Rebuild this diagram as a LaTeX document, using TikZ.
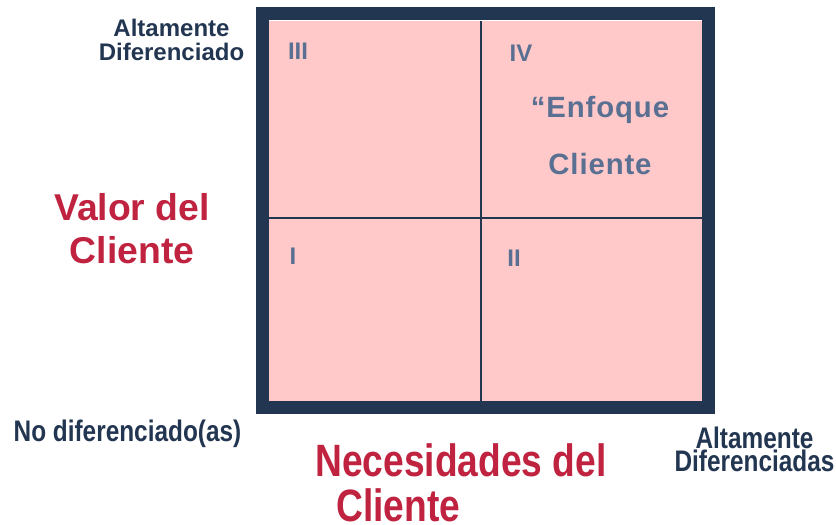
\documentclass[tikz,border=0pt]{standalone}
\usepackage{fontspec}
\setmainfont{Liberation Sans}
\newfontfamily\narrowfont{Liberation Sans}[FakeStretch=0.82]
\usetikzlibrary{positioning}

\definecolor{framec}{HTML}{233651}
\definecolor{pinkc}{HTML}{FFC9C9}
\definecolor{quadc}{HTML}{5A7092}
\definecolor{redc}{HTML}{BF2340}

\def\sc{0.75pt}
\def\midx{481}
\def\midy{218}
\def\inner{(269,21) rectangle (702,401)}

\begin{document}
\begin{tikzpicture} [x=\sc, y=-\sc,
  axislbl/.style={font=\bfseries\fontsize{18}{18}\selectfont, text=framec, align=center, anchor=base, inner sep=0pt},
  narrowlbl/.style={font=\narrowfont\bfseries\fontsize{22.3}{17.25}\selectfont, text=framec, align=center, anchor=base, inner sep=0pt},
  biglbl/.style={font=\bfseries\fontsize{28}{32.25}\selectfont, text=redc, align=center, anchor=base, inner sep=0pt},
  quadlbl/.style={font=\bfseries\fontsize{18}{18}\selectfont, text=quadc, anchor=base, inner sep=0pt}]
\useasboundingbox (0,0) rectangle (836,525);
% matrix frame
\fill [pinkc] \inner;
\draw [framec, line width=13*\sc] (262.5,13.5) rectangle (708.5,407.5);
\draw [framec, line width=1.5*\sc] (\midx,21) -- (\midx,401);
\draw [framec, line width=1.5*\sc] (269,\midy) -- (702,\midy);
% quadrants
\node (q3) [quadlbl] at (298,59.5) {III};
\node (q4) [quadlbl] at (521,61.5) {IV};
\node (q1) [quadlbl] at (293,264.5) {I};
\node (q2) [quadlbl] at (514,266.5) {II};
\node (enfoque) [quadlbl, align=center, font=\bfseries\fontsize{22}{42.75}\selectfont\addfontfeature{LetterSpace=3}]
  at (600,174) {“Enfoque\\Cliente};
% vertical axis
\node (altoy) [axislbl] at (171.5,60.5) {Altamente\\Diferenciado};
\node (valor) [biglbl] at (132,263.5) {Valor del\\Cliente};
% horizontal axis
\node (noder) [narrowlbl] at (127.5,441) {No diferenciado(as)};
\node (altox) [narrowlbl] at (754.5,471) {Altamente\\Diferenciadas};
\node (necA) [biglbl, font=\narrowfont\bfseries\fontsize{34}{34}\selectfont, anchor=base west] at (315,476) {Necesidades del};
\node (necB) [biglbl, font=\narrowfont\bfseries\fontsize{34}{34}\selectfont, anchor=base west] at (336,521) {Cliente};
\end{tikzpicture}
\end{document}
